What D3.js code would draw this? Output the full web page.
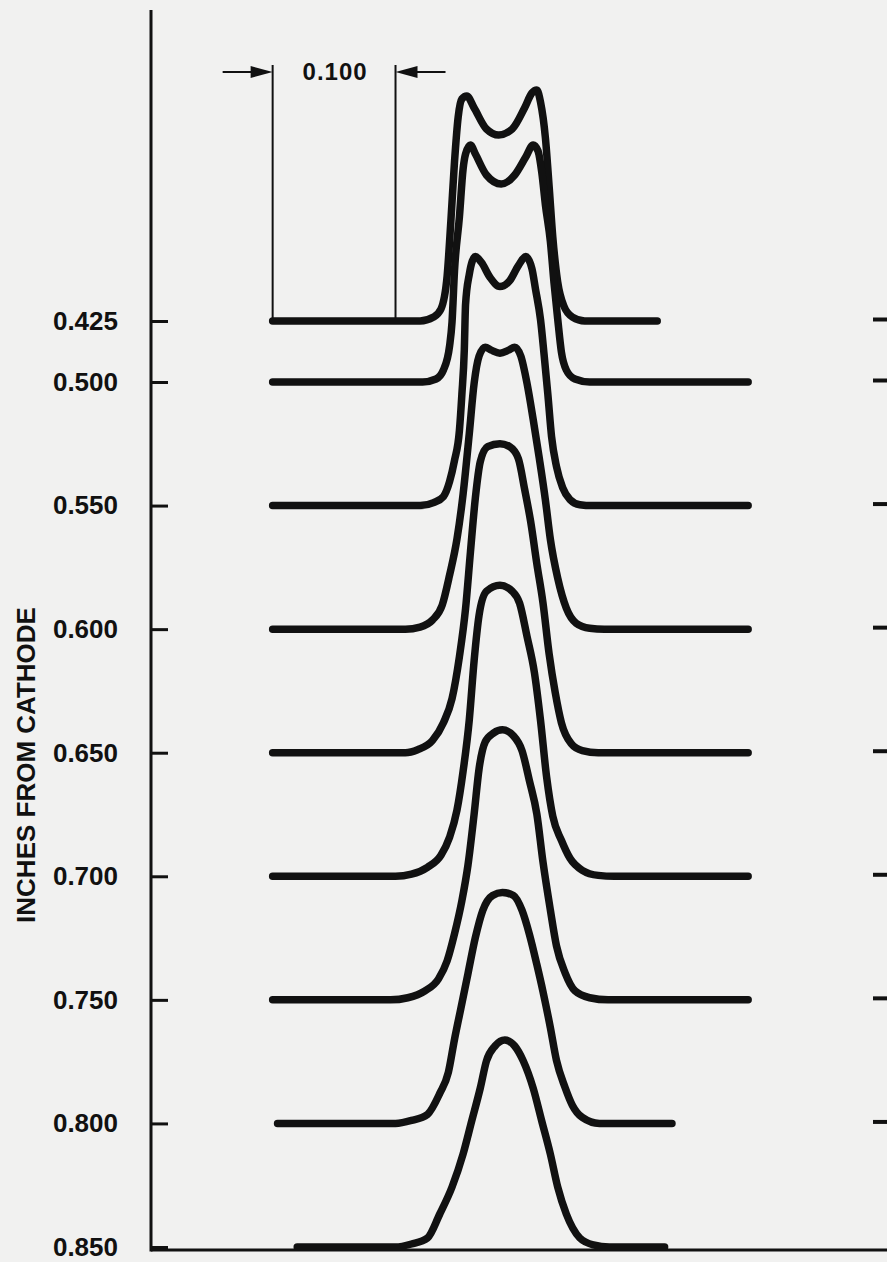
<!DOCTYPE html>
<html>
<head>
<meta charset="utf-8">
<script src="https://cdn.jsdelivr.net/npm/d3@7"></script>
<style>
  body { margin: 0; background: #f1f1f0; }
  svg { display: block; font-family: "Liberation Sans", Arial, Helvetica, sans-serif; }
</style>
</head>
<body>
<div id="chart"></div>
<script>
// distance from cathode (inches) for each beam profile
const levels = [0.425, 0.5, 0.55, 0.6, 0.65, 0.7, 0.75, 0.8, 0.85];

// profiles: [radial position (in), relative current density]
const p0425 = [[-0.185,0],[-0.065,0],[-0.054,1.3],[-0.048,4],[-0.043,15],[-0.040,33],[-0.037,53],[-0.034,68],[-0.031,74],[-0.027,75],[-0.021,71],[-0.011,64],[-0.001,62],[0.010,64],[0.020,71],[0.026,76],[0.030,77],[0.033,73],[0.037,61],[0.040,45],[0.043,28],[0.047,13],[0.052,5],[0.059,1.3],[0.069,0],[0.128,0]];
const p0500 = [[-0.185,0],[-0.063,0],[-0.052,1],[-0.046,4],[-0.041,12],[-0.039,20],[-0.037,37],[-0.033,55],[-0.030,71],[-0.028,76],[-0.024,79],[-0.020,76],[-0.011,69],[0.001,66],[0.012,69],[0.021,75],[0.027,79],[0.031,77],[0.034,70],[0.037,59],[0.041,47],[0.044,33],[0.047,21],[0.050,10],[0.054,4],[0.061,1],[0.073,0],[0.202,0]];
const p0550 = [[-0.185,0],[-0.065,0],[-0.054,1],[-0.046,3],[-0.041,8],[-0.037,15],[-0.033,25],[-0.031,37],[-0.029,52],[-0.028,67],[-0.025,77],[-0.020,83],[-0.015,81],[-0.008,76],[0,73],[0.008,75],[0.015,80],[0.021,83],[0.026,79],[0.029,72],[0.033,62],[0.036,50],[0.039,37],[0.042,23],[0.046,13],[0.051,6],[0.057,2],[0.065,0.3],[0.075,0],[0.202,0]];
const p0600 = [[-0.185,0],[-0.077,0],[-0.065,0.7],[-0.055,3],[-0.047,8],[-0.041,18],[-0.035,30],[-0.030,45],[-0.025,65],[-0.021,82],[-0.017,91],[-0.012,94],[-0.007,93],[0,92],[0.007,93],[0.012,94],[0.017,91],[0.022,82],[0.027,70],[0.032,57],[0.037,43],[0.041,30],[0.047,17],[0.054,7],[0.062,2],[0.073,0.3],[0.085,0],[0.202,0]];
const p0650 = [[-0.185,0],[-0.077,0],[-0.067,1],[-0.055,4],[-0.046,10],[-0.039,18],[-0.033,32],[-0.028,48],[-0.024,67],[-0.020,85],[-0.016,97],[-0.010,102],[0,103],[0.008,102],[0.015,98],[0.020,88],[0.025,77],[0.030,63],[0.035,50],[0.040,33],[0.045,20],[0.050,10],[0.058,3],[0.067,0.7],[0.080,0],[0.202,0]];
const p0700 = [[-0.185,0],[-0.085,0],[-0.072,0.7],[-0.059,3],[-0.048,7],[-0.041,13],[-0.035,22],[-0.030,35],[-0.025,52],[-0.021,72],[-0.017,87],[-0.011,95],[0,97],[0.010,95],[0.016,91],[0.022,80],[0.028,68],[0.033,52],[0.038,33],[0.043,20],[0.050,12],[0.057,6],[0.067,2],[0.080,0.3],[0.093,0],[0.202,0]];
const p0750 = [[-0.185,0],[-0.089,0],[-0.075,0.7],[-0.061,3],[-0.050,7],[-0.043,13],[-0.037,22],[-0.031,33],[-0.026,45],[-0.021,62],[-0.017,77],[-0.012,86],[-0.005,89],[0.002,90],[0.011,88],[0.018,83],[0.024,73],[0.030,62],[0.035,46],[0.041,30],[0.046,18],[0.053,9],[0.061,3],[0.073,0.7],[0.088,0],[0.202,0]];
const p0800 = [[-0.181,0],[-0.085,0],[-0.072,1],[-0.059,3],[-0.049,10],[-0.042,17],[-0.037,28],[-0.032,38],[-0.026,50],[-0.020,62],[-0.014,71],[-0.006,76],[0.002,77],[0.011,76],[0.018,71],[0.024,63],[0.030,53],[0.035,44],[0.041,32],[0.046,21],[0.053,12],[0.059,6],[0.067,2],[0.081,0],[0.140,0]];
const p0850 = [[-0.165,0],[-0.085,0],[-0.072,1],[-0.059,3],[-0.049,11],[-0.039,20],[-0.030,31],[-0.023,42],[-0.016,53],[-0.011,62],[-0.004,67],[0.004,69],[0.012,67],[0.019,62],[0.027,53],[0.034,42],[0.041,31],[0.047,20],[0.054,11],[0.065,3],[0.076,0.7],[0.089,0],[0.134,0]];

const profiles = [p0425, p0500, p0550, p0600, p0650, p0700, p0750, p0800, p0850];

// scale bar
const scaleBar = [-0.185, -0.085];
const scaleBarLabel = "0.100";
const axisTitle = "INCHES FROM CATHODE";

const W = 887, H = 1262;
const margin = { top: 10, right: 0, bottom: 12, left: 151 };
const width = W - margin.left - margin.right;
const height = H - margin.top - margin.bottom;
const ink = "#111";

const x = d3.scaleLinear().domain([-0.284, 0.315]).range([0, width]);
// 0.425 sits half a step above 0.500 on the original drawing
const y = d3.scaleLinear().domain([0.425, 0.5, 0.85]).range([311, 372, 1237]);
const amp = d3.scaleLinear().domain([0, 100]).range([0, 300]);

const svg = d3.select("#chart").append("svg")
  .attr("width", W).attr("height", H)
  .attr("viewBox", [0, 0, W, H]);

svg.append("rect").attr("width", W).attr("height", H).attr("fill", "#f1f1f0");

const g = svg.append("g").attr("transform", `translate(${margin.left},${margin.top})`);

// left axis with inward ticks
g.append("g")
  .attr("font-family", null)
  .call(d3.axisLeft(y).tickValues(levels).tickFormat(d3.format(".3f"))
    .tickSize(-17).tickSizeOuter(0).tickPadding(33))
  .call((a) => a.select(".domain").remove())
  .call((a) => a.selectAll("line").attr("stroke", ink).attr("stroke-width", 3))
  .call((a) => a.selectAll("text")
    .attr("font-size", 26).attr("font-weight", "bold").attr("fill", ink));

// right-hand ticks
g.append("g")
  .attr("transform", `translate(${width},-2)`)
  .call(d3.axisRight(y).tickValues(levels.slice(0, -1)).tickFormat("")
    .tickSize(-14).tickSizeOuter(0))
  .call((a) => a.select(".domain").remove())
  .call((a) => a.selectAll("line").attr("stroke", ink).attr("stroke-width", 4));

// frame lines
g.append("line").attr("x1", 0).attr("x2", 0).attr("y1", 0).attr("y2", height + 1.5)
  .attr("stroke", ink).attr("stroke-width", 3);
g.append("line").attr("x1", 0).attr("x2", width).attr("y1", height).attr("y2", height)
  .attr("stroke", ink).attr("stroke-width", 3);

// axis title
svg.append("text")
  .attr("transform", `translate(26,765) rotate(-90)`)
  .attr("text-anchor", "middle")
  .attr("dominant-baseline", "central")
  .attr("font-size", 26).attr("font-weight", "bold").attr("fill", ink)
  .text(axisTitle);

// scale bar
const barTop = 55, barY = 62;
g.selectAll(".dim")
  .data(scaleBar)
  .join("line")
  .attr("class", "dim")
  .attr("x1", (d) => x(d)).attr("x2", (d) => x(d))
  .attr("y1", barTop).attr("y2", y(levels[0]) - 3)
  .attr("stroke", ink).attr("stroke-width", 2);

scaleBar.forEach((d, i) => {
  const dir = i === 0 ? -1 : 1; // arrows point inward
  const tip = x(d);
  g.append("line")
    .attr("x1", tip + dir * 50).attr("x2", tip + dir * 18)
    .attr("y1", barY).attr("y2", barY)
    .attr("stroke", ink).attr("stroke-width", 2);
  g.append("path")
    .attr("d", `M${tip},${barY}L${tip + dir * 22},${barY - 6}L${tip + dir * 22},${barY + 6}Z`)
    .attr("fill", ink);
});

g.append("text")
  .attr("x", (x(scaleBar[0]) + x(scaleBar[1])) / 2 + 1)
  .attr("y", barY)
  .attr("dy", "0.35em")
  .attr("text-anchor", "middle")
  .attr("font-size", 24).attr("font-weight", "bold")
  .attr("letter-spacing", 1)
  .attr("fill", ink)
  .text(scaleBarLabel);

// beam profiles
const line = d3.line().curve(d3.curveMonotoneX);

g.append("g")
  .attr("fill", "none")
  .attr("stroke", ink)
  .attr("stroke-width", 7.5)
  .attr("stroke-linecap", "round")
  .attr("stroke-linejoin", "round")
  .selectAll("path")
  .data(profiles)
  .join("path")
  .attr("d", (pts, i) => line(pts.map((p) => [x(p[0]), y(levels[i]) - amp(p[1])])));
</script>
</body>
</html>
